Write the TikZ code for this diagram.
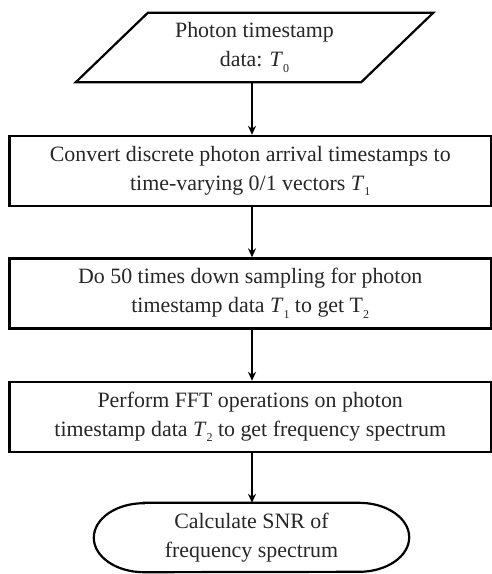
\documentclass[tikz,border=0pt]{standalone}
\usepackage{fontspec}
\setmainfont{Liberation Serif}
\usetikzlibrary{arrows.meta}
\newcommand{\Tsub}[2]{\textit{#1}\raisebox{-0.55ex}{\fontsize{12}{12}\selectfont #2}}
\newcommand{\Usub}[2]{#1\raisebox{-0.55ex}{\fontsize{12}{12}\selectfont #2}}
\tikzset{
  txt/.style={align=center, text=black!85, font=\fontsize{21.9}{29}\selectfont, inner sep=0pt},
  procbox/.style={txt, draw, line width=2.4pt, minimum width=481.5pt, minimum height=70pt},
  shapeline/.style={line width=2.2pt, line join=miter},
  flow/.style={line width=2pt, -{Stealth[length=9pt, width=8pt]}}
}
\begin{document}
\begin{tikzpicture}[x=1pt,y=-1pt]
\useasboundingbox (0,0) rectangle (492,574);
% input parallelogram
\node[txt, minimum width=285pt, minimum height=69pt] (in) at (254.5,47.5)
  {Photon timestamp\\data: \Tsub{T}{0}};
\draw[shapeline] ([xshift=36pt]in.north west) -- ([xshift=36pt]in.north east)
  -- ([xshift=-36pt]in.south east) -- ([xshift=-36pt]in.south west) -- cycle;
% process boxes
\node[procbox] (b1) at (250.25,171) {Convert discrete photon arrival timestamps to\\time-varying 0/1 vectors \Tsub{T}{1}};
\node[procbox] (b2) at (250.25,293.5) {Do 50 times down sampling for photon\\timestamp data \Tsub{T}{1} to get \Usub{T}{2}};
\node[procbox] (b3) at (250.25,417) {Perform FFT operations on photon\\timestamp data \Tsub{T}{2} to get frequency spectrum};
% terminal
\node[txt, minimum width=315pt, minimum height=69pt] (end) at (251.5,537.5)
  {Calculate SNR of\\frequency spectrum};
\draw[shapeline] ([xshift=50pt]end.north west) -- ([xshift=-50pt]end.north east)
  arc[start angle=90, end angle=-90, x radius=50pt, y radius=34.5pt]
  -- ([xshift=50pt]end.south west)
  arc[start angle=270, end angle=90, x radius=50pt, y radius=34.5pt] -- cycle;
% connectors
\draw[flow] (in.south -| 252,0) -- (b1.north -| 252,0);
\draw[flow] (b1.south -| 252,0) -- (b2.north -| 252,0);
\draw[flow] (b2.south -| 252,0) -- (b3.north -| 252,0);
\draw[flow] (b3.south -| 252,0) -- (end.north -| 252,0);
\end{tikzpicture}
\end{document}
